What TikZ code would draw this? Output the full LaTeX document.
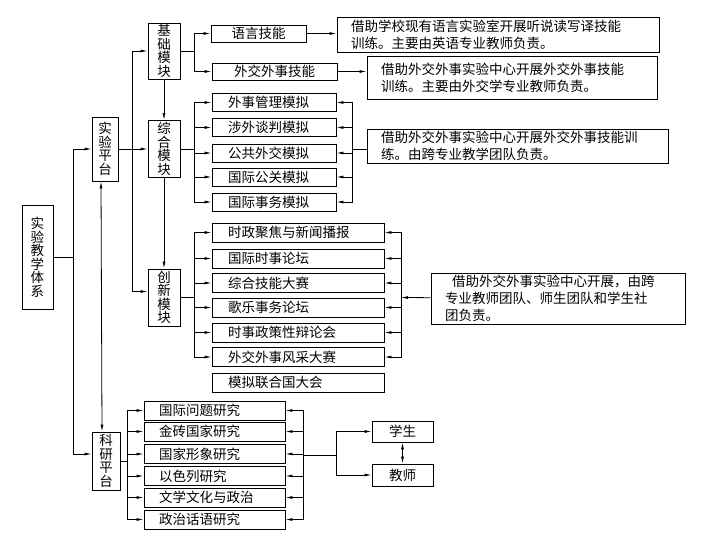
\documentclass[tikz,border=0pt]{standalone}
\usepackage{fontspec}
\newfontfamily\cjk{Noto Sans CJK SC}
\usetikzlibrary{arrows.meta}

\tikzset{
  box/.style={draw, line width=0.9pt, inner ysep=0pt, font=\cjk\fontsize{13.5}{13.5}\selectfont},
  vbox/.style={box, align=center, text width=14pt, inner xsep=0pt, minimum width=32pt, minimum height=57pt},
  skill/.style={box, minimum height=17pt},
  zitem/.style={box, align=left, text width=92pt, inner xsep=16pt, minimum height=18pt},
  citem/.style={box, align=left, text width=140pt, inner xsep=16pt, minimum height=19pt},
  ritem/.style={box, align=left, text width=111pt, inner xsep=15pt, minimum height=19pt},
  note/.style={box, align=left, inner xsep=14pt, font=\cjk\fontsize{13.5}{17}\selectfont},
}

\begin{document}
\begin{tikzpicture}[x=1pt, y=-1pt, line width=0.8pt, >={Latex[length=7pt,width=3pt]}]
    \useasboundingbox (0,0) rectangle (710,549);

    % platforms and modules
    \node [vbox, minimum width=31pt, minimum height=104pt] (sys) at (37.5,257) {实\\验\\教\\学\\体\\系};
    \node [vbox, minimum width=26pt, minimum height=64pt] (exp) at (105,149) {实\\验\\平\\台};
    \node [vbox, minimum width=28pt, minimum height=58pt] (res) at (106,461) {科\\研\\平\\台};
    \node [vbox, minimum height=56pt] (jc) at (164,51) {基\\础\\模\\块};
    \node [vbox] (zh) at (164,149) {综\\合\\模\\块};
    \node [vbox] (cx) at (164,297.5) {创\\新\\模\\块};

    % basic module
    \node [skill, minimum width=95pt] (yy) at (258.5,33.5) {语言技能};
    \node [skill, minimum width=125pt] (wj) at (274.5,71.5) {外交外事技能};
    \node [note, text width=294pt, minimum height=35pt] (n1) at (498,34.5)
        {借助学校现有语言实验室开展听说读写译技能\\训练。主要由英语专业教师负责。};
    \node [note, text width=262pt, minimum height=43pt] (n2) at (512,77.5)
        {借助外交外事实验中心开展外交外事技能\\训练。主要由外交学专业教师负责。};

    % comprehensive module
    \node [zitem] (z1) at (274,102.5) {外事管理模拟};
    \node [zitem] (z2) at (274,127.5) {涉外谈判模拟};
    \node [zitem] (z3) at (274,153) {公共外交模拟};
    \node [zitem] (z4) at (274,177) {国际公关模拟};
    \node [zitem] (z5) at (274,202) {国际事务模拟};
    \node [note, text width=273pt, minimum height=34pt] (n3) at (517.5,146)
        {借助外交外事实验中心开展外交外事技能训\\练。由跨专业教学团队负责。};

    % innovation module
    \node [citem] (c1) at (298,232.5) {时政聚焦与新闻播报};
    \node [citem] (c2) at (298,258.5) {国际时事论坛};
    \node [citem] (c3) at (298,283) {综合技能大赛};
    \node [citem] (c4) at (298,307.5) {歌乐事务论坛};
    \node [citem] (c5) at (298,332.5) {时事政策性辩论会};
    \node [citem] (c6) at (298,357) {外交外事风采大赛};
    \node [citem] (c7) at (298,382.5) {模拟联合国大会};
    \node [note, text width=226pt, minimum height=51pt] (n4) at (558,298.5)
        {\hspace*{7pt}借助外交外事实验中心开展，由跨\\专业教师团队、师生团队和学生社\\团负责。};

    % research platform
    \node [ritem] (r1) at (214.5,410.5) {国际问题研究};
    \node [ritem] (r2) at (214.5,431.5) {金砖国家研究};
    \node [ritem] (r3) at (214.5,454) {国家形象研究};
    \node [ritem] (r4) at (214.5,476) {以色列研究};
    \node [ritem] (r5) at (214.5,497.5) {文学文化与政治};
    \node [ritem] (r6) at (214.5,519.5) {政治话语研究};
    \node [box, minimum width=61pt, minimum height=21pt] (st) at (402.5,431.5) {学生};
    \node [box, minimum width=61pt, minimum height=22pt] (te) at (402.5,475) {教师};

    \coordinate (s0) at (73,257);
    \coordinate (b0) at (132,149);
    \coordinate (jb) at (194,51);
    \coordinate (zb) at (194,149);
    \coordinate (zr) at (352,149);
    \coordinate (cb) at (194,297.5);
    \coordinate (cr) at (401,297.5);
    \coordinate (rb) at (127,461);
    \coordinate (rr) at (303,455);
    \coordinate (rs) at (336,455);

    \draw (sys) -- (s0);
    \draw [->] (s0) |- (exp);
    \draw [->] (s0) |- ([yshift=7pt]res.west);
    \draw [<->] ([xshift=-4pt]exp.south) -- ([xshift=-4pt]res.north);
    \draw [->] (exp) -- (zh);
    \draw [->] (b0) |- (jc);
    \draw [->] (b0) |- ([yshift=6pt]cx.west);
    \draw [->] (jc) -- (zh);
    \draw [->] (zh) -- (cx);

    \draw (jc) -- (jb);
    \draw [->] (jb) |- (yy);
    \draw [->] (jb) |- (wj);
    \draw [->] (yy) -- (yy -| n1.west);
    \draw [->] (wj) -- (wj -| n2.west);

    \draw (zh) -- (zb);
    \draw [->] (zb) |- (z1);
    \draw [->] (zb) |- (z2);
    \draw [->] (zb) |- (z3);
    \draw [->] (zb) |- (z4);
    \draw [->] (zb) |- (z5);
    \draw [->] (zr) |- (z1);
    \draw [->] (zr) |- (z2);
    \draw [->] (zr) |- (z3);
    \draw [->] (zr) |- (z4);
    \draw [->] (zr) |- (z5);
    \draw (zr) -- (zr -| n3.west);

    \draw (cx) -- (cb);
    \draw [->] (cb) |- (c1);
    \draw [->] (cb) |- (c2);
    \draw [->] (cb) |- (c3);
    \draw [->] (cb) |- (c4);
    \draw [->] (cb) |- (c5);
    \draw [->] (cb) |- (c6);
    \draw [->] (cr) |- (c1);
    \draw [->] (cr) |- (c2);
    \draw [->] (cr) |- (c3);
    \draw [->] (cr) |- (c4);
    \draw [->] (cr) |- (c5);
    \draw [->] (cr) |- (c6);
    \draw [->] (n4) -- (cr);

    \draw (res) -- (rb);
    \draw [->] (rb) |- (r1);
    \draw [->] (rb) |- (r2);
    \draw [->] (rb) |- (r3);
    \draw [->] (rb) |- (r4);
    \draw [->] (rb) |- (r5);
    \draw [->] (rb) |- (r6);
    \draw [->] (rr) |- (r1);
    \draw [->] (rr) |- (r2);
    \draw [->] (rr) |- (r3);
    \draw [->] (rr) |- (r4);
    \draw [->] (rr) |- (r5);
    \draw [->] (rr) |- (r6);
    \draw (rr) -- (rs);
    \draw [->] (rs) |- (st);
    \draw [->] (rs) |- (te);
    \draw [<->] (st) -- (te);
\end{tikzpicture}
\end{document}
